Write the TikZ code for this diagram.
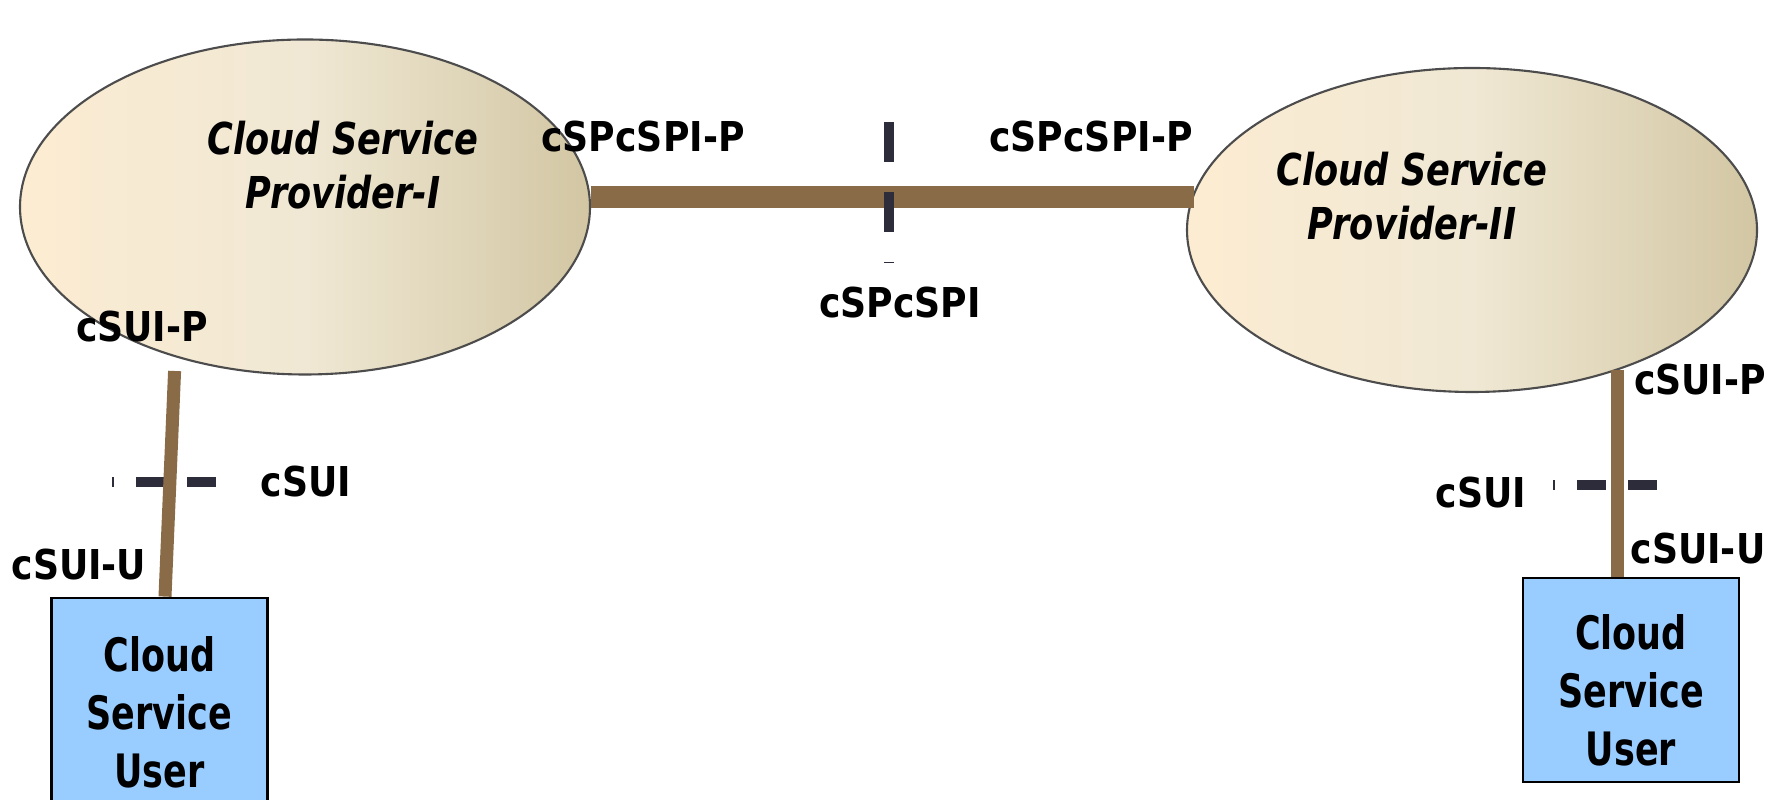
\documentclass[tikz,border=0pt]{standalone}
\usepackage{fontspec}
\setmainfont{DejaVu Sans}[FakeStretch=0.88]
\newfontfamily\cloudfont{DejaVu Sans}[FakeStretch=0.8]
\newfontfamily\userfont{DejaVu Sans}[FakeStretch=0.76]
\usepackage{tikz}
\usetikzlibrary{shapes.geometric}

\definecolor{linkbrown}{RGB}{137,107,72}
\definecolor{userblue}{RGB}{153,204,255}
\definecolor{cutgray}{RGB}{44,44,58}
\definecolor{cloudleft}{RGB}{252,236,210}
\definecolor{cloudmid}{RGB}{240,232,212}
\definecolor{cloudright}{RGB}{210,198,163}

\begin{document}
\begin{tikzpicture}
[every node/.style={inner sep=0pt},
 csp/.style={ellipse,draw=black!70,line width=0.6pt,left color=cloudleft,right color=cloudright,middle color=cloudmid,minimum width=5.7cm},
 csptext/.style={align=center,font=\cloudfont\fontsize{12.5}{15.4}\selectfont\bfseries\itshape},
 csu/.style={rectangle,draw=black,line width=0.8pt,fill=userblue,minimum width=2.16cm,minimum height=2.04cm},
 csutext/.style={align=center,font=\userfont\fontsize{13.1}{16.5}\selectfont\bfseries},
 ref/.style={font=\fontsize{11.7}{14}\selectfont\bfseries},
 link/.style={draw=linkbrown,line width=3.7pt},
 trunk/.style={draw=linkbrown,line width=6pt},
 cut/.style={draw=cutgray,line width=2.85pt,dash pattern=on 8.25pt off 6.26pt,dash phase=7.7pt}]
\useasboundingbox (0,0) rectangle (17.81,8);
\node[csp,minimum height=3.35cm] (cspA) at (3.05,5.93) {};
\node[csp,minimum height=3.24cm] (cspB) at (14.72,5.70) {};
\node[csptext] (cspAname) at (3.43,6.35) {Cloud Service\\Provider-I};
\node[csptext] (cspBname) at (14.12,6.04) {Cloud Service\\Provider-II};
\node[csu] (csuA) at (1.595,1.00) {};
\node[csu] (csuB) at (16.31,1.20) {};
\node[csutext] (csuAname) at (1.595,0.88) {Cloud\\Service\\User};
\node[csutext] (csuBname) at (16.31,1.10) {Cloud\\Service\\User};
\node[ref] (spA) at (6.43,6.63) {cSPcSPI-P};
\node[ref] (spB) at (10.91,6.63) {cSPcSPI-P};
\node[ref] (spi) at (9.00,4.97) {cSPcSPI};
\node[ref] (suiPA) at (1.42,4.73) {cSUI-P};
\node[ref] (suiA) at (3.06,3.18) {cSUI};
\node[ref] (suiUA) at (0.79,2.35) {cSUI-U};
\node[ref] (suiPB) at (17.00,4.20) {cSUI-P};
\node[ref] (suiB) at (14.81,3.07) {cSUI};
\node[ref] (suiUB) at (16.98,2.51) {cSUI-U};
\coordinate (cutAl) at (1.12,3.18);
\coordinate (cutAr) at (2.17,3.18);
\coordinate (cutBl) at (15.53,3.15);
\coordinate (cutBr) at (16.58,3.15);
\coordinate (cutCt) at (8.89,6.78);
\coordinate (cutCb) at (8.89,5.37);
\draw[cut] (cutAl) -- (cutAr);
\draw[cut] (cutBl) -- (cutBr);
\draw[link] ([yshift=-0.14cm]cspA.229) -- ([xshift=0.055cm]csuA.north);
\draw[link] (cspB.316.1) -- (cspB.316.1 |- csuB.north);
\draw[trunk] (cspA.2.7) -- (cspA.2.7 -| cspB.172.5);
\draw[cut,dash pattern=on 11.4pt off 8.5pt,dash phase=0pt] (cutCt) -- (cutCb);
\end{tikzpicture}
\end{document}
